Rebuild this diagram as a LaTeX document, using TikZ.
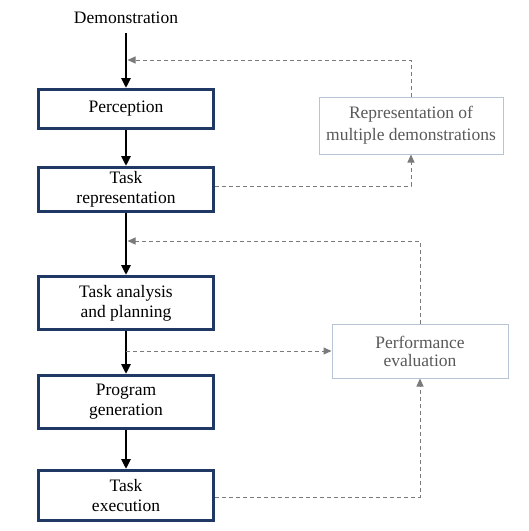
\documentclass[tikz,border=0pt]{standalone}
\usepackage{fontspec}
\setmainfont{Liberation Serif}
\newfontfamily\timesf{Liberation Serif}
\usetikzlibrary{arrows.meta}
\definecolor{navy}{HTML}{1F3864}
\definecolor{lgframe}{HTML}{B8C4D4}
\definecolor{gtext}{HTML}{595959}
\definecolor{dgray}{HTML}{7A7A7A}
\begin{document}
\begin{tikzpicture}[x=1pt,y=-1pt,
  font=\timesf\fontsize{17.5}{20}\selectfont,
  mainbox/.style={draw=navy, line width=3pt, fill=white, minimum width=175pt, align=center, inner sep=0pt},
  sidebox/.style={draw=lgframe, line width=1pt, text=gtext, align=center, inner sep=0pt},
  flow/.style={line width=2.8pt, -{Triangle[length=10pt,width=9pt]}},
  fb/.style={draw=dgray, line width=1pt, dash pattern=on 4pt off 3pt, -{Triangle[length=8pt,width=7pt]}, dgray}]
\useasboundingbox (0,0) rectangle (529,531);
\node (demo) at (126,18) {Demonstration};
\node[mainbox, minimum height=39pt] (perc) at (126,109) {Perception};
\node[mainbox, minimum height=44pt] (trep) at (126,189.5) {Task\\representation};
\node[mainbox, minimum height=53pt] (tana) at (126,303) {Task analysis\\and planning};
\node[mainbox, minimum height=53pt] (pgen) at (126,402) {Program\\generation};
\node[mainbox, minimum height=50pt] (texe) at (126,495.5) {Task\\execution};
\node[sidebox, minimum width=184pt, minimum height=57pt, font=\timesf\fontsize{17.5}{22}\selectfont] (rmd) at (411,125.5) {Representation of\\multiple demonstrations};
\node[sidebox, minimum width=176pt, minimum height=54pt, font=\timesf\fontsize{17.5}{18}\selectfont] (perf) at (420,351) {Performance\\evaluation};
\coordinate (m1) at (127.5,60);
\coordinate (m2) at (127.5,241);
\coordinate (m3) at (126,351);
\draw[flow, shorten <=6pt] (demo.south) -- (perc.north);
\draw[flow] (perc.south) -- (trep.north);
\draw[flow] (trep.south) -- (tana.north);
\draw[flow] (tana.south) -- (pgen.north);
\draw[flow] (pgen.south) -- (texe.north);
\draw[fb] (rmd.north) |- (m1);
\draw[fb] ([yshift=3.5pt]trep.east) -| (rmd.south);
\draw[fb] (perf.north) |- (m2);
\draw[fb] (m3) -- (perf.west);
\draw[fb] ([yshift=-1.5pt]texe.east) -| (perf.south);
\end{tikzpicture}
\end{document}
